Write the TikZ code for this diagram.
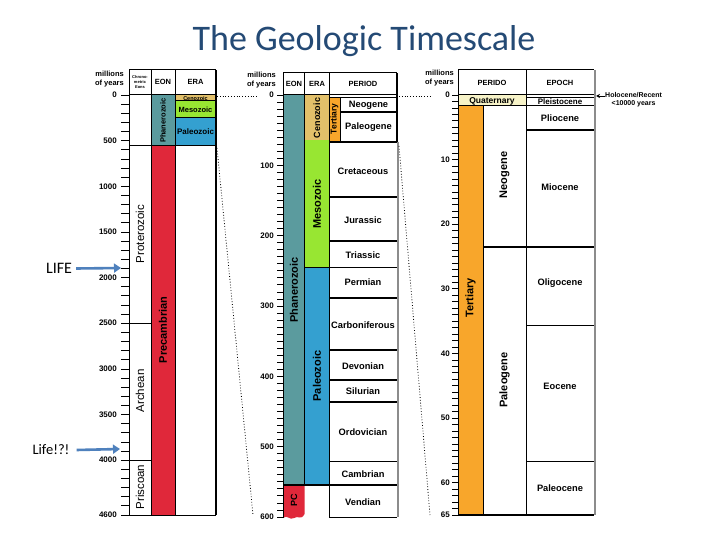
\documentclass[tikz,border=0pt]{standalone}
\usepackage{fontspec}
\setmainfont{Liberation Sans}
\newfontfamily\calib{Carlito}
\usetikzlibrary{arrows.meta}
\definecolor{titleblue}{HTML}{244A75}
\definecolor{eonteal}{HTML}{5B9B9E}
\definecolor{pcred}{HTML}{E0283A}
\definecolor{cenotan}{HTML}{E2C06A}
\definecolor{mesogreen}{HTML}{98E632}
\definecolor{paleoblue}{HTML}{34A0D0}
\definecolor{tertorange}{HTML}{F8A62B}
\definecolor{quatyellow}{HTML}{F7F3C8}
\definecolor{arrowblue}{HTML}{4F81BD}
\definecolor{bordergray}{HTML}{8C8C8C}
\begin{document}
\begin{tikzpicture}[x=1pt,y=-1pt,
  bdr/.style={line width=1pt},
  thk/.style={line width=1.6pt},
  tickln/.style={line width=0.8pt},
  nums/.style={font=\fontsize{8}{9}\selectfont\bfseries, anchor=east, inner sep=0pt},
  myr/.style={font=\fontsize{7.5}{8.5}\selectfont\bfseries, align=right, inner sep=0pt, anchor=east},
  hdr/.style={font=\fontsize{7.5}{9}\selectfont\bfseries, inner sep=0pt},
  per/.style={font=\fontsize{9.3}{10}\selectfont\bfseries, inner sep=0pt},
  vert/.style={rotate=90, font=\fontsize{11}{12}\selectfont\bfseries, inner sep=0pt},
  vertr/.style={rotate=90, font=\fontsize{11.5}{12}\selectfont, inner sep=0pt},
  dots/.style={dotted, line width=0.8pt},
  bluearrow/.style={arrowblue, line width=2.6pt, -{Triangle[length=7pt,width=9pt]}},
]
\fill[white] (0,0) rectangle (720,540);
\useasboundingbox (0,0) rectangle (720,540);

% title
\node[font=\calib\fontsize{36}{40}\selectfont, text=titleblue, inner sep=0pt] (title) at (364,41) {The Geologic Timescale};

% ================= panel 1 =================
\fill[eonteal] (151,95) rectangle (175,146);
\fill[pcred] (151,146) rectangle (175,515);
\fill[cenotan] (175,95) rectangle (216,101);
\fill[mesogreen] (175,101) rectangle (216,118);
\fill[paleoblue] (175,118) rectangle (216,146);
\draw[bdr] (129,70) -- (129,515) -- (216,515);
\draw[bdr] (129,70) -- (216,70);
\draw[bdr] (129,95) -- (216,95);
\draw[bdr] (151,70) -- (151,515);
\draw[bdr] (175,70) -- (175,515);
\draw[bdr] (129,146) -- (216,146);
\draw[bdr] (175,101) -- (216,101);
\draw[bdr] (175,118) -- (216,118);
\draw[bdr] (129,323.5) -- (151,323.5);
\draw[bdr] (129,460) -- (151,460);
\draw[thk] (216,70) -- (216,515);
\foreach \i in {0,...,46} \draw[tickln] (121,{95+\i*9.13}) -- (129,{95+\i*9.13});
\foreach \v in {0,500,...,4000} \node[nums] (a\v) at (117,{95+\v*0.0913}) {\v};
\node[nums] (a4600) at (117,515) {4600};

\node[myr] (my1) at (124,79) {millions\\of years};
\node[font=\fontsize{4}{4.6}\selectfont\bfseries, align=center, inner sep=0pt] (chr) at (140,82) {Chrono-\\metric\\Eons};
\node[hdr] (eon1) at (163,82) {EON};
\node[hdr] (era1) at (195.5,82) {ERA};
\node[font=\fontsize{5.5}{6}\selectfont\bfseries, inner sep=0pt] (ceno1) at (195.5,98.2) {Cenozoic};
\node[font=\fontsize{7.5}{8}\selectfont\bfseries, inner sep=0pt] (meso1) at (195.5,109.5) {Mesozoic};
\node[font=\fontsize{8}{8}\selectfont\bfseries, inner sep=0pt] (paleo1) at (195.5,132) {Paleozoic};
\node[vert, font=\fontsize{7.5}{8}\selectfont\bfseries] (phan1) at (163,120.5) {Phanerozoic};
\node[vert] (precam) at (163,330) {Precambrian};
\node[vertr] (prot) at (140,234) {Proterozoic};
\node[vertr] (arch) at (140,391) {Archean};
\node[vertr] (pris) at (140,487) {Priscoan};

% life arrows
\node[font=\calib\fontsize{16}{18}\selectfont, inner sep=0pt] (life) at (59,268.5) {LIFE};
\coordinate (lifeend) at (121,268);
\draw[bluearrow] ([xshift=4pt]life.east) -- (lifeend);
\node[font=\calib\fontsize{14.5}{16}\selectfont, inner sep=0pt] (life2) at (51,450) {Life!?!};
\coordinate (life2end) at (120,449);
\draw[bluearrow] ([xshift=7pt]life2.east) -- (life2end);

% ================= panel 2 =================
\fill[eonteal] (283,95) rectangle (304.5,485);
\fill[pcred] (283,485) -- (304.5,485) -- (304.5,514)
  .. controls (301,521) and (298,515) .. (294,518)
  .. controls (290,521) and (287,514) .. (283,518) -- cycle;
\draw[bdr] (283,485) -- (283,518);
\fill[cenotan] (304.5,95) rectangle (329,140.5);
\fill[mesogreen] (304.5,140.5) rectangle (329,267);
\fill[paleoblue] (304.5,267) rectangle (329,485);
\fill[tertorange] (329,98) rectangle (340,142);

\draw[bdr] (283,73) -- (397,73);
\draw[bdr] (283,95) -- (397,95);
\draw[bdr] (329,98) -- (397,98);
\draw[bdr] (283,73) -- (283,485);
\draw[bdr] (304.5,73) -- (304.5,485);
\draw[bdr] (329,73) -- (329,517);
\draw[bdr] (340,98) -- (340,142);
\draw[thk] (397,73) -- (397,142);
\draw[line width=2pt, bordergray] (398,142) -- (398,517);
\draw[thk] (340,112) -- (397,112);
\draw[thk] (329,142) -- (397,142);
\draw[thk] (329,197) -- (397,197);
\draw[thk] (329,241) -- (397,241);
\draw[bdr] (304.5,267) -- (397,267);
\draw[thk] (329,298) -- (397,298);
\draw[thk] (329,350) -- (397,350);
\draw[thk] (329,380) -- (397,380);
\draw[thk] (329,402) -- (397,402);
\draw[bdr] (329,461) -- (397,461);
\draw[thk] (283,485) -- (397,485);
\draw[bdr] (329,517) -- (397,517);

\foreach \i in {0,...,60} \draw[tickln] (277,{95+\i*7.033}) -- (283,{95+\i*7.033});
\foreach \v in {0,100,...,600} \node[nums] (b\v) at (274,{95+\v*0.7033}) {\v};

\node[myr] (my2) at (276,80) {millions\\of years};
\node[hdr] (eon2) at (294,84) {EON};
\node[hdr] (era2) at (317,84) {ERA};
\node[hdr] (period2) at (363,84) {PERIOD};

\node[per] (neog2) at (368.5,105) {Neogene};
\node[per] (paleog2) at (368.5,127) {Paleogene};
\node[per] (cret) at (363,171) {Cretaceous};
\node[per] (jura) at (363,220) {Jurassic};
\node[per] (tria) at (363,255) {Triassic};
\node[per] (perm) at (363,282) {Permian};
\node[per] (carb) at (363,325) {Carboniferous};
\node[per] (devo) at (363,366) {Devonian};
\node[per] (silu) at (363,391) {Silurian};
\node[per] (ordo) at (363,432) {Ordovician};
\node[per] (camb) at (363,474) {Cambrian};
\node[per] (vend) at (363,502) {Vendian};

\node[vert, font=\fontsize{9}{10}\selectfont\bfseries] (ceno2) at (317,118) {Cenozoic};
\node[vert, font=\fontsize{8.5}{10}\selectfont\bfseries] (tert2) at (334.5,119) {Tertiary};
\node[vert] (meso2) at (317,204) {Mesozoic};
\node[vert] (paleo2) at (317,376) {Paleozoic};
\node[vert] (phan2) at (294,290) {Phanerozoic};
\node[vert, font=\fontsize{9}{10}\selectfont\bfseries] (pc2) at (294,500) {PC};

% ================= panel 3 =================
\fill[quatyellow] (458,95) rectangle (526,106);
\fill[tertorange] (458,106) rectangle (483,515);
\draw[bdr] (458,70) -- (594,70);
\draw[bdr] (458,95) -- (594,95);
\draw[bdr] (526,97.3) -- (594,97.3);
\draw[bdr] (458,70) -- (458,515);
\draw[bdr] (526,70) -- (526,515);
\draw[bdr] (483,106) -- (483,515);
\draw[bdr] (458,106) -- (594,106);
\draw[thk] (526,130) -- (594,130);
\draw[thk] (483,247) -- (594,247);
\draw[bdr] (526,325) -- (594,325);
\draw[bdr] (526,461) -- (594,461);
\draw[thk] (458,515) -- (594,515);
\draw[line width=1.6pt, bordergray] (595,70) -- (595,515);

\foreach \i in {0,...,65} \draw[tickln] (452,{95+\i*6.4615}) -- (458,{95+\i*6.4615});
\foreach \v in {0,10,...,60} \node[nums] (c\v) at (450,{95+\v*6.4615}) {\v};
\node[nums] (c65) at (450,515) {65};

\node[myr] (my3) at (454,78) {millions\\of years};
\node[hdr] (period3) at (492,83) {PERIDO};
\node[hdr] (epoch3) at (560,83) {EPOCH};
\node[font=\fontsize{8.5}{9}\selectfont\bfseries, inner sep=0pt] (quat) at (492,101) {Quaternary};
\node[font=\fontsize{8}{9}\selectfont\bfseries, inner sep=0pt] (pleis) at (560,102) {Pleistocene};
\node[per] (plio) at (560,118) {Pliocene};
\node[per] (mio) at (560,187) {Miocene};
\node[per] (oligo) at (560,283) {Oligocene};
\node[per] (eoc) at (560,386) {Eocene};
\node[per] (paleoc) at (560,488) {Paleocene};
\node[vert] (tert3) at (470.5,298) {Tertiary};
\node[vert] (neog3) at (504.5,175) {Neogene};
\node[vert] (paleog3) at (504.5,380) {Paleogene};

\node[font=\fontsize{7}{8}\selectfont\bfseries, align=center, inner sep=0pt, anchor=north west] (holo) at (605,92) {Holocene/Recent\\{<}10000 years};
\coordinate (holoend) at (596,96);
\draw[line width=0.8pt, -{Stealth[length=4pt,width=4pt]}] (holo.west |- holoend) -- (holoend);

% ================= dotted connectors =================
\coordinate (p1top) at (217,96);
\coordinate (p2zero) at (258,96);
\coordinate (p1bot) at (217,148);
\coordinate (p2bot) at (253,515);
\draw[dots] (p1top) -- (p2zero);
\draw[dots] (p1bot) -- (p2bot);
\coordinate (p2top) at (399,96);
\coordinate (p3zero) at (432,96);
\coordinate (p2mid) at (399,146);
\coordinate (p3bot) at (430,515);
\draw[dots] (p2top) -- (p3zero);
\draw[dots] (p2mid) -- (p3bot);
\end{tikzpicture}
\end{document}
